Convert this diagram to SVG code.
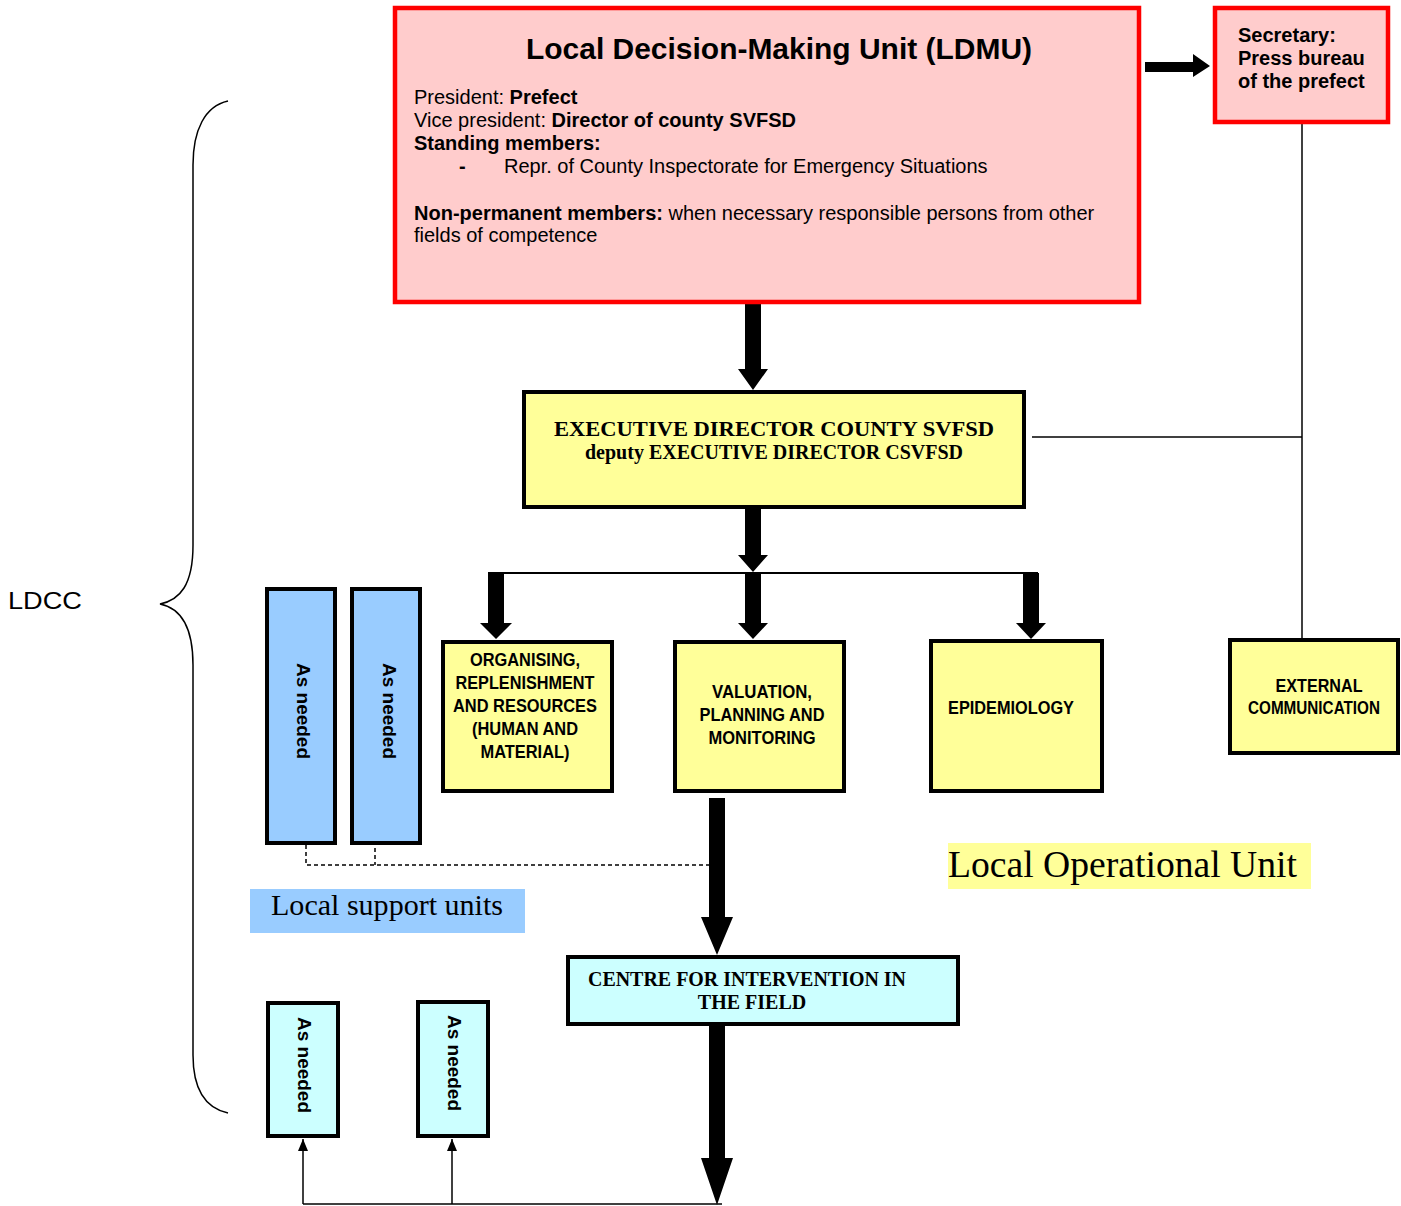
<svg xmlns="http://www.w3.org/2000/svg" width="1401" height="1206" viewBox="0 0 1401 1206">
<style>
.red{fill:#FFCCCC;stroke:#FF0000;stroke-width:4.5}
.yel{fill:#FFFF99;stroke:#000;stroke-width:4}
.blu{fill:#99CCFF;stroke:#000;stroke-width:4}
.cya{fill:#CCFFFF;stroke:#000;stroke-width:4}
.sans{font-family:"Liberation Sans",Arial,sans-serif;fill:#000}
.serif{font-family:"Liberation Serif","Times New Roman",serif;fill:#000}
.b{font-weight:bold}
.box{font-family:"Liberation Sans",Arial,sans-serif;font-weight:bold;font-size:18px;fill:#000}
.vt{font-family:"Liberation Sans",Arial,sans-serif;font-weight:bold;font-size:19px;fill:#000}
.thin{fill:none;stroke:#000;stroke-width:1.5}
.dash{fill:none;stroke:#000;stroke-width:1.5;stroke-dasharray:4 3}
.blk{fill:#000;stroke:none}
</style>
<defs>
<marker id="ah" viewBox="0 0 12 10" refX="12" refY="5" markerWidth="12" markerHeight="10" markerUnits="userSpaceOnUse" orient="auto">
<path d="M0,0 L12,5 L0,10 Z" fill="#000"/>
</marker>
</defs>
<rect width="1401" height="1206" fill="#fff"/>

<g id="brace">
<path class="thin" d="M228,101 C205,106 193,130 193,165 L193,545 C193,585 180,600 160,604 C180,608 193,625 193,665 L193,1055 C193,1090 205,1108 228,1113"/>
<text class="sans" x="8" y="609" font-size="23" textLength="74" lengthAdjust="spacingAndGlyphs">LDCC</text>
</g>

<g id="connectors">
<polygon class="blk" points="745,301 761,301 761,369 768,369 753,390 738,369 745,369"/>
<polygon class="blk" points="1145,62 1193,62 1193,54 1210,66 1193,77 1193,72 1145,72"/>
<polygon class="blk" points="745,505 761,505 761,555 768,555 753,572 738,555 745,555"/>
<line x1="488" y1="573" x2="1038" y2="573" stroke="#000" stroke-width="2"/>
<polygon class="blk" points="488,573 504,573 504,623 512,623 496,639 480,623 488,623"/>
<polygon class="blk" points="745,573 761,573 761,623 768,623 753,639 738,623 745,623"/>
<polygon class="blk" points="1023,573 1039,573 1039,623 1046,623 1031,639 1016,623 1023,623"/>
<polygon class="blk" points="709,798 725,798 725,917 733,917 717,955 701,917 709,917"/>
<polygon class="blk" points="709,1026 725,1026 725,1158 733,1158 717,1205 701,1158 709,1158"/>
<polyline class="thin" points="1302,124 1302,640"/>
<line class="thin" x1="1032" y1="437" x2="1302" y2="437"/>
<polyline class="dash" points="306,845 306,865 709,865"/>
<line class="dash" x1="375" y1="834" x2="375" y2="865"/>
<line class="thin" x1="303" y1="1204" x2="722" y2="1204"/>
<line class="thin" x1="303" y1="1204" x2="303" y2="1139" marker-end="url(#ah)"/>
<line class="thin" x1="452" y1="1204" x2="452" y2="1139" marker-end="url(#ah)"/>
</g>

<g id="ldmu">
<rect class="red" x="395" y="8" width="744" height="294"/>
<text class="sans b" x="779" y="59" font-size="30" text-anchor="middle" textLength="506" lengthAdjust="spacingAndGlyphs">Local Decision-Making Unit (LDMU)</text>
<text class="sans" x="414" y="104" font-size="20">President: <tspan class="b">Prefect</tspan></text>
<text class="sans" x="414" y="127" font-size="20">Vice president: <tspan class="b">Director of county SVFSD</tspan></text>
<text class="sans b" x="414" y="150" font-size="20">Standing members:</text>
<text class="sans b" x="459" y="173" font-size="20">-</text>
<text class="sans" x="504" y="173" font-size="20">Repr. of County Inspectorate for Emergency Situations</text>
<text class="sans" x="414" y="220" font-size="20"><tspan class="b">Non-permanent members:</tspan> when necessary responsible persons from other</text>
<text class="sans" x="414" y="242" font-size="20">fields of competence</text>
</g>

<g id="secretary">
<rect class="red" x="1215" y="8" width="173" height="114"/>
<text class="sans b" x="1238" y="42" font-size="20">Secretary:</text>
<text class="sans b" x="1238" y="65" font-size="20">Press bureau</text>
<text class="sans b" x="1238" y="88" font-size="20">of the prefect</text>
</g>

<g id="executive">
<rect class="yel" x="524" y="392" width="500" height="115"/>
<text class="serif b" x="774" y="436" font-size="22" text-anchor="middle" textLength="440" lengthAdjust="spacingAndGlyphs">EXECUTIVE DIRECTOR COUNTY SVFSD</text>
<text class="serif b" x="774" y="459" font-size="20" text-anchor="middle" textLength="378" lengthAdjust="spacingAndGlyphs">deputy EXECUTIVE DIRECTOR CSVFSD</text>
</g>

<g id="organising">
<rect class="yel" x="443" y="642" width="169" height="149"/>
<text class="box" x="525" y="666" text-anchor="middle" textLength="110" lengthAdjust="spacingAndGlyphs">ORGANISING,</text>
<text class="box" x="525" y="689" text-anchor="middle" textLength="139" lengthAdjust="spacingAndGlyphs">REPLENISHMENT</text>
<text class="box" x="525" y="712" text-anchor="middle" textLength="144" lengthAdjust="spacingAndGlyphs">AND RESOURCES</text>
<text class="box" x="525" y="735" text-anchor="middle" textLength="106" lengthAdjust="spacingAndGlyphs">(HUMAN AND</text>
<text class="box" x="525" y="758" text-anchor="middle" textLength="89" lengthAdjust="spacingAndGlyphs">MATERIAL)</text>
</g>

<g id="valuation">
<rect class="yel" x="675" y="642" width="169" height="149"/>
<text class="box" x="762" y="698" text-anchor="middle" textLength="100" lengthAdjust="spacingAndGlyphs">VALUATION,</text>
<text class="box" x="762" y="721" text-anchor="middle" textLength="125" lengthAdjust="spacingAndGlyphs">PLANNING AND</text>
<text class="box" x="762" y="744" text-anchor="middle" textLength="107" lengthAdjust="spacingAndGlyphs">MONITORING</text>
</g>

<g id="epidemiology">
<rect class="yel" x="931" y="641" width="171" height="150"/>
<text class="box" x="948" y="714" textLength="126" lengthAdjust="spacingAndGlyphs">EPIDEMIOLOGY</text>
</g>

<g id="external">
<rect class="yel" x="1230" y="640" width="168" height="113"/>
<text class="box" x="1319" y="692" text-anchor="middle" textLength="87" lengthAdjust="spacingAndGlyphs">EXTERNAL</text>
<text class="box" x="1314" y="714" text-anchor="middle" textLength="132" lengthAdjust="spacingAndGlyphs">COMMUNICATION</text>
</g>

<g id="support1">
<rect class="blu" x="267" y="589" width="68" height="254"/>
<text class="vt" transform="translate(297,711) rotate(90)" text-anchor="middle">As needed</text>
</g>
<g id="support2">
<rect class="blu" x="352" y="589" width="68" height="254"/>
<text class="vt" transform="translate(383,711) rotate(90)" text-anchor="middle">As needed</text>
</g>

<g id="support-label">
<rect x="250" y="889" width="275" height="44" fill="#99CCFF"/>
<text class="serif" x="271" y="915" font-size="30" textLength="232" lengthAdjust="spacingAndGlyphs">Local support units</text>
</g>

<g id="operational-label">
<rect x="948" y="843" width="363" height="46" fill="#FFFF99"/>
<text class="serif" x="948" y="877" font-size="38" textLength="349" lengthAdjust="spacingAndGlyphs">Local Operational Unit</text>
</g>

<g id="centre">
<rect class="cya" x="568" y="957" width="390" height="67"/>
<text class="serif b" x="747" y="986" font-size="20" text-anchor="middle" textLength="318" lengthAdjust="spacingAndGlyphs">CENTRE FOR INTERVENTION IN</text>
<text class="serif b" x="752" y="1009" font-size="20" text-anchor="middle">THE FIELD</text>
</g>

<g id="field1">
<rect class="cya" x="268" y="1003" width="70" height="133"/>
<text class="vt" transform="translate(298,1065) rotate(90)" text-anchor="middle">As needed</text>
</g>
<g id="field2">
<rect class="cya" x="418" y="1002" width="70" height="134"/>
<text class="vt" transform="translate(448,1063) rotate(90)" text-anchor="middle">As needed</text>
</g>
</svg>
